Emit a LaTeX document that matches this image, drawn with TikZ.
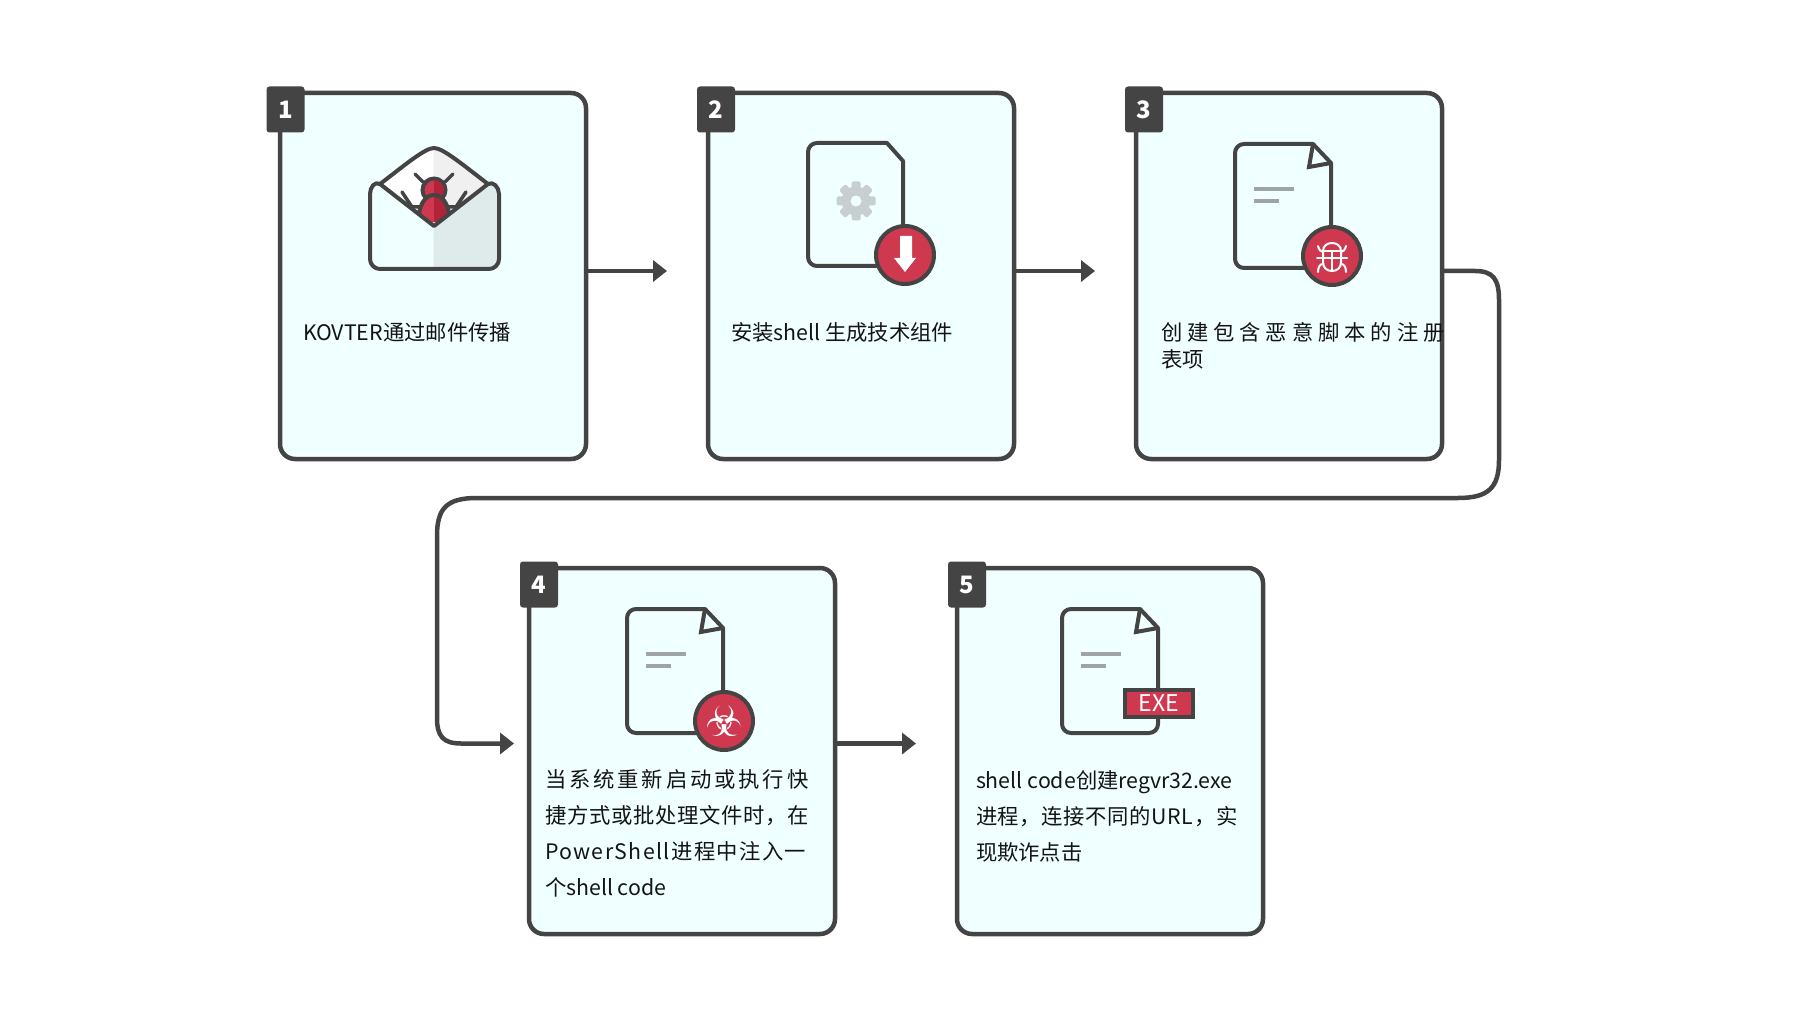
\documentclass[tikz,border=0pt]{standalone}
\usepackage{fontspec}
\setmainfont{Noto Sans CJK SC}
\newfontfamily\symfont{DejaVu Sans}
\usetikzlibrary{arrows.meta}
\definecolor{ink}{HTML}{444444}
\definecolor{cardfill}{HTML}{F0FFFF}
\definecolor{alert}{HTML}{CF394F}
\definecolor{alertdark}{HTML}{B02338}
\definecolor{textgrey}{HTML}{9EA3A3}
\definecolor{gearcol}{HTML}{C8CFD1}
\definecolor{shadeR}{HTML}{DFEBEB}
\definecolor{flapR}{HTML}{F0F0F0}
\newcommand\LS[2]{{\addfontfeature{LetterSpace=#1}#2}}
\tikzset{
  card/.style={draw=ink,fill=cardfill,line width=4.5pt,rounded corners=15pt,minimum width=306pt,minimum height=366pt,inner sep=0pt,outer sep=0pt},
  badge/.style={fill=ink,rounded corners=3pt,minimum width=38pt,minimum height=46pt,inner sep=0pt,outer sep=0pt,text=white,font=\fontsize{24}{24}\selectfont\bfseries},
  label/.style={anchor=base west,inner sep=0pt,outer sep=0pt,align=left,text=black!92,font=\fontsize{21.33}{36}\selectfont},
  conn/.style={draw=ink,line width=4.5pt,-{Triangle[length=14pt,width=21pt]}},
  iconline/.style={draw=ink,line width=4pt,line join=round},
  docshape/.style={iconline,fill=cardfill},
  redcirc/.style={draw=ink,fill=alert,line width=4pt},
  greybar/.style={draw=textgrey,line width=4pt},
  whitebug/.style={draw=white,line width=2pt,line cap=round},
}
\newcommand\docicon[2]{%
  \begin{scope}[shift={(#1,#2)}]
    \draw[docshape] (78,0) -- (96,19) [rounded corners=9pt] -- (96,124) -- (0,124) -- (0,0) [sharp corners] -- (78,0) -- cycle;
    \draw[iconline,line join=miter] (78,0) -- (74,23) -- (96,19);
    \draw[greybar] (19,45) -- (59,45);
    \draw[greybar] (19,57) -- (44,57);
  \end{scope}}
\begin{document}
\begin{tikzpicture}[x=1pt,y=-1pt]
\useasboundingbox[fill=white] (0,0) rectangle (1808,1016);

% cards
\node[card] (c1) at (433,276) {};
\node[card] (c2) at (861,276) {};
\node[card] (c3) at (1289,276) {};
\node[card] (c4) at (682,751) {};
\node[card] (c5) at (1110,751) {};

% connectors
\draw[conn,shorten >=41pt] ([yshift=5pt]c1.east) -- ([yshift=5pt]c2.west);
\draw[conn,shorten >=41pt] ([yshift=5pt]c2.east) -- ([yshift=5pt]c3.west);
\draw[conn,shorten >=41pt] ([yshift=7.5pt]c4.east) -- ([yshift=7.5pt]c5.west);
\draw[conn,shorten >=15pt] ([yshift=5pt]c3.east) -- (1475,271)
  .. controls (1493,271) and (1499,279) .. (1499,300) -- (1499,460)
  .. controls (1499,488) and (1488,498) .. (1458,498) -- (477,498)
  .. controls (447,498) and (437,508) .. (437,536) -- (437,718)
  .. controls (437,736) and (443,743.5) .. (461,743.5) -- ([yshift=7.5pt]c4.west);

% badges
\node[badge] (b1) at (285.5,109.5) {1};
\node[badge] (b2) at (716,109.5) {2};
\node[badge] (b3) at (1144,109.5) {3};
\node[badge] (b4) at (539,584.5) {4};
\node[badge] (b5) at (967,584.5) {5};

% envelope icon
\fill[white] (380,184) .. controls (405,165) and (425,148) .. (434,148) .. controls (443,148) and (463,165) .. (488,184) -- (434,226) -- cycle;
\begin{scope}
  \clip (433.5,140) rectangle (500,230);
  \fill[flapR] (380,184) .. controls (405,165) and (425,148) .. (434,148) .. controls (443,148) and (463,165) .. (488,184) -- (434,226) -- cycle;
\end{scope}
\draw[iconline] (380,184) .. controls (405,165) and (425,148) .. (434,148) .. controls (443,148) and (463,165) .. (488,184);
\draw[ink,line width=3.5pt,line cap=round] (415,174) -- (423,182) (453,174) -- (445,182);
\draw[ink,line width=3.5pt,line cap=round,line join=round] (402,192) -- (412,207) -- (425,207) (466,192) -- (456,207) -- (443,207);
\draw[redcirc] (434,190) circle (11.5);
\begin{scope}
  \clip (434,175) rectangle (450,205);
  \fill[alertdark] (434,190) circle (10);
\end{scope}
\fill[alert] (434,195) .. controls (425,195) and (420,205) .. (419,214) -- (434,226) -- (449,214) .. controls (448,205) and (443,195) .. (434,195) -- cycle;
\fill[alertdark] (434,195) .. controls (443,195) and (448,205) .. (449,214) -- (434,226) -- cycle;
\draw[iconline] (419,214) .. controls (420,205) and (425,195) .. (434,195) .. controls (443,195) and (448,205) .. (449,214);
\fill[cardfill,rounded corners=10pt] (380,184) -- (434,226) -- (488,184) -- (499,184) -- (499,269) -- (370,269) -- (370,184) -- cycle;
\begin{scope}
  \clip (433.5,180) rectangle (505,275);
  \fill[shadeR,rounded corners=10pt] (380,184) -- (434,226) -- (488,184) -- (499,184) -- (499,269) -- (370,269) -- (370,184) -- cycle;
\end{scope}
\draw[iconline] (380,184) -- (434,226) -- (488,184) .. controls (493,181) and (499,187) .. (499,194) [rounded corners=10pt] -- (499,269) -- (370,269) [sharp corners] -- (370,194) .. controls (370,187) and (375,181) .. (380,184);

% doc + download
\draw[docshape] (887,143) -- (903,161) [rounded corners=9pt] -- (903,266) -- (808,266) -- (808,143) [sharp corners] -- (887,143) -- cycle;
\foreach \a in {0,45,...,315}
  \fill[gearcol,rotate around={\a:(856,201)},rounded corners=1.5pt] (851.5,195) rectangle (860.5,181.5);
\fill[gearcol] (856,201) circle (14.5);
\fill[cardfill] (856,201) circle (5.5);
\draw[redcirc] (905,255) circle (29);
\fill[white] (900,236) -- (912,236) -- (912,258) -- (916,258) -- (905,272) -- (894,258) -- (900,258) -- cycle;

% doc + bug
\docicon{1235}{144}
\draw[redcirc] (1332,256) circle (29);
\draw[whitebug] (1323,251) .. controls (1323,246) and (1327,243) .. (1332,243) .. controls (1337,243) and (1341,246) .. (1341,251);
\draw[whitebug] (1321,251) -- (1343,251);
\draw[whitebug] (1323,251) -- (1323,262) .. controls (1323,268) and (1327,271) .. (1332,271) .. controls (1337,271) and (1341,268) .. (1341,262) -- (1341,251);
\draw[whitebug] (1332,251) -- (1332,271);
\draw[whitebug] (1317,258) -- (1347,258);
\draw[whitebug] (1318,246) .. controls (1319,250) and (1321,252) .. (1323,252);
\draw[whitebug] (1346,246) .. controls (1345,250) and (1343,252) .. (1341,252);
\draw[whitebug] (1318,272) .. controls (1318,267) and (1320,264) .. (1323,264);
\draw[whitebug] (1346,272) .. controls (1346,267) and (1344,264) .. (1341,264);

% doc + biohazard
\docicon{627}{609}
\draw[redcirc] (724,721) circle (29);
\node[inner sep=0pt,text=white,font=\symfont\fontsize{42}{42}\selectfont] (bio) at (724,721) {☣};

% doc + EXE
\docicon{1062}{609}
\node[draw=ink,fill=alert,line width=4pt,minimum width=68pt,minimum height=27pt,inner sep=0pt,outer sep=0pt,text=white,font=\fontsize{23}{23}\selectfont] (exe) at (1159,703.5) {EXE};

% labels
\node[label] (t1) at (303,341) {KOVTER通过邮件传播};
\node[label] (t2) at (731,341) {安装shell 生成技术组件};
\node[label,font=\fontsize{21.33}{27}\selectfont] (t3) at (1161,367) {\LS{23}{创建包含恶意脚本的注册}\\表项};
\node[label] (t4) at (545,895) {\LS{13.5}{当系统重新启动或执行快}\\\LS{3.3}{捷方式或批处理文件时，在}\\\LS{6.5}{PowerShell进程中注入一}\\个shell code};
\node[label] (t5) at (976,860) {shell code创建regvr32.exe\\\LS{3}{进程，连接不同的URL，实}\\现欺诈点击};
\end{tikzpicture}
\end{document}
